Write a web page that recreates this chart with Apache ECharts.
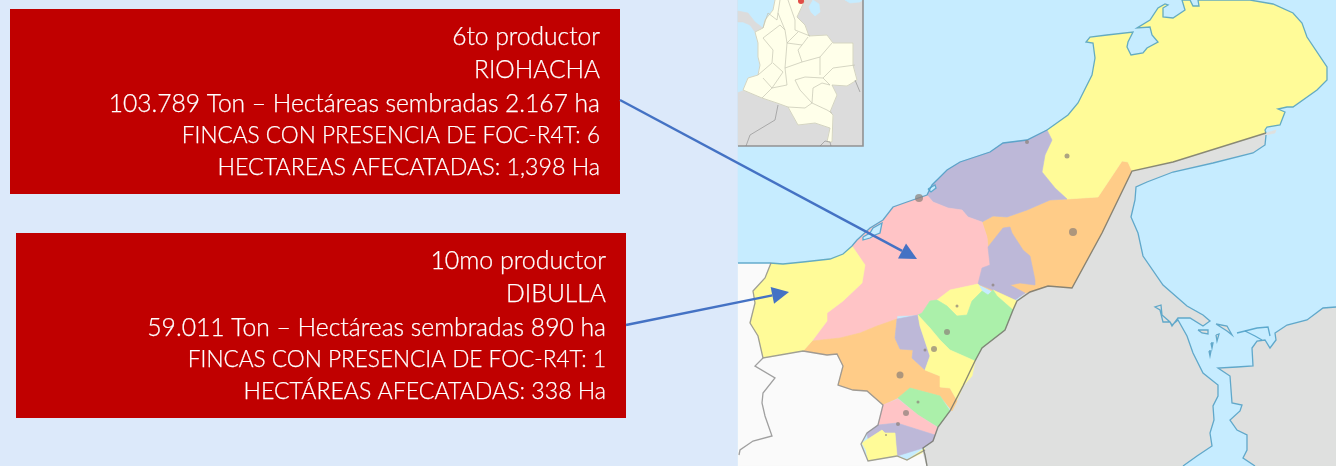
<!DOCTYPE html>
<html>
<head>
<meta charset="utf-8">
<title>La Guajira</title>
<style>
html, body { margin: 0; padding: 0; background: #dce9fa; }
#main { width: 1336px; height: 466px; filter: blur(0.45px); }
</style>
<script src="https://cdn.jsdelivr.net/npm/echarts@6/dist/echarts.min.js"></script>
</head>
<body>
<div id="main"></div>
<script>
// textos de los recuadros
var riohachaLines = ['6to productor', 'RIOHACHA', '103.789 Ton \u2013 Hect\u00e1reas sembradas 2.167 ha', 'FINCAS CON PRESENCIA DE FOC-R4T: 6', 'HECTAREAS AFECATADAS: 1,398 Ha'];
var dibullaLines = ['10mo productor', 'DIBULLA', '59.011 Ton \u2013 Hect\u00e1reas sembradas 890 ha', 'FINCAS CON PRESENCIA DE FOC-R4T: 1', 'HECT\u00c1REAS AFECATADAS: 338 Ha'];

// contornos (x, y en pixeles del mapa)
var seaArea = [[738, 0], [1336, 0], [1336, 466], [738, 466]];
var whiteLand = [[738, 263], [771, 263], [765, 278], [753, 291], [755, 303], [750, 323], [758, 336], [763, 358], [803, 351], [827, 355], [837, 354], [843, 366], [838, 385], [853, 390], [867, 391], [883, 405], [878, 425], [867, 433], [861, 444], [868, 461], [897, 456], [907, 460], [925, 450], [923, 453], [927, 466], [738, 466]];
var venezuelaWest = [[1266, 133], [1276, 130], [1275, 133], [1266, 135], [1265, 145], [1253, 153], [1213, 163], [1173, 172], [1147, 182], [1136, 187], [1135, 200], [1131, 217], [1138, 233], [1143, 256], [1163, 285], [1187, 306], [1203, 315], [1210, 321], [1203, 326], [1190, 318], [1178, 318], [1172, 326], [1170, 322], [1163, 322], [1160, 310], [1155, 307], [1161, 305], [1162, 315], [1170, 322], [1172, 325], [1178, 320], [1187, 336], [1193, 353], [1203, 373], [1218, 385], [1218, 396], [1213, 406], [1214, 420], [1210, 433], [1212, 446], [1197, 456], [1183, 466], [927, 466], [923, 453], [925, 448], [933, 441], [938, 427], [950, 411], [963, 386], [975, 361], [982, 348], [1005, 330], [1017, 301], [1025, 293], [1048, 286], [1072, 288], [1102, 233], [1132, 171], [1173, 162]];
var venezuelaEast = [[1336, 307], [1323, 308], [1307, 320], [1287, 325], [1275, 333], [1276, 340], [1270, 348], [1265, 340], [1257, 341], [1252, 348], [1253, 366], [1237, 367], [1218, 368], [1230, 376], [1232, 403], [1242, 405], [1240, 411], [1230, 420], [1237, 430], [1247, 435], [1247, 450], [1243, 458], [1255, 466], [1336, 466]];
var isletA = [[1216, 324], [1227, 326], [1232, 335], [1227, 331]];
var isletB = [[1198, 330], [1208, 330], [1208, 334], [1202, 333]];
var isletC = [[1216, 335], [1219, 334], [1217, 341]];
var isletD = [[1211, 343], [1213, 343], [1212, 348]];
var isletE = [[1209, 351], [1211, 351], [1210, 356]];

var uribia = [[1047, 130], [1068, 115], [1078, 103], [1092, 75], [1095, 58], [1093, 43], [1086, 42], [1090, 37], [1107, 35], [1133, 32], [1128, 42], [1127, 47], [1131, 55], [1143, 53], [1147, 48], [1158, 42], [1152, 35], [1150, 27], [1137, 28], [1150, 20], [1158, 8], [1165, 4], [1168, 5], [1163, 8], [1163, 17], [1173, 18], [1185, 10], [1182, 0], [1190, 0], [1193, 6], [1199, 6], [1198, 0], [1250, 0], [1273, 4], [1293, 13], [1302, 23], [1307, 37], [1327, 67], [1327, 80], [1317, 90], [1293, 107], [1287, 107], [1278, 109], [1285, 112], [1280, 125], [1267, 127], [1265, 130], [1266, 133], [1173, 162], [1132, 171], [1128, 162], [1122, 161], [1098, 197], [1067, 199], [1055, 188], [1042, 172], [1045, 155], [1052, 140]];
var manaure = [[927, 195], [932, 185], [947, 170], [960, 162], [990, 152], [1003, 143], [1027, 140], [1047, 130], [1052, 140], [1045, 155], [1042, 172], [1055, 188], [1067, 199], [1050, 200], [1027, 210], [1007, 217], [993, 216], [982, 222], [968, 217], [962, 210], [948, 208], [933, 202]];
var riohacha = [[927, 195], [907, 202], [893, 207], [883, 220], [870, 228], [857, 240], [852, 246], [865, 265], [862, 283], [843, 301], [827, 313], [827, 321], [812, 341], [840, 338], [860, 333], [877, 326], [897, 319], [897, 316], [918, 315], [922, 313], [930, 301], [937, 300], [950, 290], [978, 284], [990, 265], [988, 247], [987, 237], [982, 222], [968, 217], [962, 210], [948, 208], [933, 202]];
var maicao = [[982, 222], [993, 216], [1007, 217], [1027, 210], [1050, 200], [1067, 199], [1098, 197], [1122, 161], [1128, 162], [1132, 171], [1102, 233], [1072, 288], [1048, 286], [1030, 292], [1025, 293], [1010, 300], [978, 284], [982, 268], [990, 265], [988, 247], [987, 237]];
var albania = [[1010, 227], [1012, 233], [1023, 250], [1030, 256], [1035, 280], [1035, 285], [1020, 283], [1010, 285], [1025, 293], [1015, 300], [993, 290], [978, 284], [982, 268], [990, 265], [988, 247], [1003, 228]];
var hatonuevo = [[937, 300], [950, 290], [978, 284], [982, 291], [972, 301], [967, 315], [957, 316], [947, 306]];
var barrancas = [[930, 301], [937, 300], [947, 306], [957, 316], [967, 315], [972, 301], [982, 291], [988, 295], [993, 290], [997, 296], [1013, 310], [1005, 330], [982, 348], [975, 361], [950, 350], [940, 340], [930, 328], [918, 315], [922, 313]];
var stripNorth = [[993, 290], [1017, 301], [1013, 310], [997, 296]];
var distraccion = [[897, 319], [918, 315], [920, 326], [930, 356], [925, 370], [912, 358], [913, 350], [900, 349], [895, 338]];
var fonseca = [[918, 315], [930, 328], [940, 340], [950, 350], [975, 361], [972, 376], [963, 386], [957, 400], [950, 388], [940, 387], [940, 376], [925, 370], [930, 356], [920, 326]];
var sanJuan = [[803, 351], [812, 341], [840, 338], [860, 333], [877, 326], [897, 319], [895, 338], [900, 349], [913, 350], [912, 358], [925, 370], [940, 376], [940, 387], [950, 388], [957, 401], [952, 411], [940, 396], [910, 388], [898, 398], [883, 405], [867, 391], [853, 390], [838, 385], [843, 366], [837, 354], [827, 355]];
var villanueva = [[910, 388], [940, 396], [950, 411], [938, 427], [918, 415], [898, 398]];
var urumita = [[898, 399], [918, 415], [937, 427], [935, 435], [897, 423], [878, 425], [883, 405]];
var laJaguaWest = [[878, 425], [897, 423], [935, 435], [933, 441], [923, 448], [897, 456], [895, 433], [885, 433], [882, 430], [868, 439], [867, 433]];
var laJaguaEast = [[862, 443], [868, 439], [882, 430], [885, 433], [895, 433], [897, 456], [907, 460], [925, 448], [922, 453], [907, 460], [897, 456], [868, 461], [866, 450]];
var dibulla = [[771, 263], [783, 264], [803, 262], [830, 259], [843, 254], [852, 246], [865, 265], [862, 283], [843, 301], [827, 313], [827, 321], [812, 341], [803, 351], [763, 358], [758, 336], [750, 323], [755, 303], [753, 291], [765, 278]];
var lagoonWest = [[863, 237], [870, 233], [873, 228], [882, 223], [880, 233], [875, 235], [870, 238], [863, 240]];
var lagoonEast = [[928, 189], [935, 185], [936, 188], [931, 192]];

// mapa pequeno de Colombia
var insetFrame = [[738, 0], [863, 0], [863, 146], [738, 146]];
var insetSea = [[738, 0], [775, 0], [773, 10], [765, 20], [763, 28], [755, 32], [758, 43], [758, 57], [760, 65], [758, 75], [748, 78], [743, 90], [738, 92]];
var insetPanama = [[738, 11], [748, 13], [755, 22], [763, 28], [755, 32], [750, 25], [743, 22], [738, 22]];
var insetLake = [[813, 0], [819, 4], [820, 12], [815, 16], [811, 12], [809, 7]];
var insetCaribe = [[845, 0], [863, 0], [860, 2], [850, 3]];
var colombia = [[775, 0], [773, 10], [765, 20], [763, 28], [755, 32], [758, 43], [758, 57], [760, 65], [758, 75], [748, 78], [743, 90], [762, 98], [777, 103], [788, 107], [798, 125], [815, 123], [830, 128], [827, 142], [832, 142], [833, 115], [830, 112], [837, 95], [832, 85], [847, 86], [857, 80], [853, 65], [853, 43], [833, 43], [827, 35], [809, 36], [805, 25], [797, 17], [805, 0]];
var insetDepartments = [
  [[832, 43], [820, 57], [802, 62], [785, 68], [787, 85]],
  [[820, 57], [820, 75]],
  [[855, 65], [833, 68], [823, 78], [830, 85]],
  [[795, 80], [805, 77], [823, 78]],
  [[795, 80], [800, 90], [812, 103], [805, 108], [788, 107]],
  [[812, 103], [827, 110], [832, 113]],
  [[813, 88], [822, 83], [830, 85]],
  [[813, 88], [812, 103]],
  [[787, 85], [772, 88], [762, 98]],
  [[763, 78], [772, 88], [783, 72], [773, 63]],
  [[780, 0], [778, 13], [785, 30], [787, 43], [785, 68]],
  [[788, 0], [795, 20], [795, 30], [810, 36]],
  [[787, 43], [798, 32]],
  [[763, 38], [773, 50], [772, 63], [758, 75]],
  [[763, 28], [768, 13], [777, 20], [778, 13]],
  [[763, 38], [780, 25], [785, 30]],
  [[787, 43], [802, 45], [808, 37]],
  [[802, 62], [798, 50], [802, 45]],
  colombia
];
var insetBorders = [
  [[778, 105], [775, 120], [750, 135], [746, 146]],
  [[855, 80], [860, 92]],
  [[820, 146], [825, 141], [830, 142], [831, 146]]
];

// costas y fronteras
var coastLines = [
  [[738, 263], [770, 263], [783, 264], [803, 262], [830, 259], [843, 254], [852, 246], [857, 240], [870, 228], [883, 220], [893, 207], [907, 202], [927, 195], [932, 185], [947, 170], [960, 162], [990, 152], [1003, 143], [1027, 140], [1047, 130]],
  uribia.slice(0, 48),
  [[1266, 135], [1265, 145], [1253, 153], [1213, 163], [1173, 172], [1147, 182], [1136, 187], [1135, 200], [1131, 217], [1138, 233], [1143, 256], [1163, 285], [1187, 306], [1203, 315], [1210, 321], [1203, 326], [1190, 318], [1178, 318], [1172, 326], [1170, 322], [1163, 322], [1160, 310], [1155, 307], [1161, 305], [1162, 315], [1170, 322], [1172, 325], [1178, 320], [1187, 336], [1193, 353], [1203, 373], [1218, 385], [1218, 396], [1213, 406], [1214, 420], [1210, 433], [1212, 446], [1197, 456], [1183, 466]],
  venezuelaEast.slice(0, 23),
  [[1237, 333], [1245, 331], [1257, 328], [1268, 327], [1270, 336]],
  [[1245, 331], [1255, 336], [1262, 340]],
  isletA.concat([isletA[0]]),
  isletB.concat([isletB[0]]),
  isletC.concat([isletC[0]]),
  isletD.concat([isletD[0]]),
  isletE.concat([isletE[0]]),
  lagoonWest.concat([lagoonWest[0]]),
  lagoonEast.concat([lagoonEast[0]])
];
var borderLines = [
  [[1266, 133], [1173, 162], [1132, 171], [1102, 233], [1072, 288], [1048, 286], [1030, 292], [1017, 301], [1013, 310], [1005, 330], [982, 348], [975, 361], [963, 386], [950, 411], [938, 427], [933, 441], [923, 448], [925, 455], [927, 466]]
];
var landLines = [
  [[771, 263], [765, 278], [753, 291], [755, 303], [750, 323], [758, 336], [763, 358], [803, 351], [827, 355], [837, 354], [843, 366], [838, 385], [853, 390], [867, 391], [883, 405], [878, 425], [867, 433], [861, 444], [868, 461], [897, 456], [907, 460], [925, 450]],
  [[763, 358], [755, 366], [775, 378], [763, 393], [762, 403], [765, 416], [772, 436], [753, 441], [740, 450], [739, 455]]
];

// poblaciones: x, y, tamano
var townSpots = [[919, 198, 8], [1027, 142, 4], [1067, 156, 5], [1073, 232, 8], [993, 285, 3], [957, 306, 3], [947, 332, 6], [934, 349, 6], [925, 350, 3], [900, 375, 7], [918, 402, 3], [906, 413, 6], [898, 424, 4], [886, 435, 2]];
var markerSpot = [[801, 1, 6]];

// cuadros y flechas
var riohachaBox = [10, 9, 620, 194];
var dibullaBox = [16, 233, 626, 418];
var riohachaY = [37, 70, 104, 136, 168];
var dibullaY = [261, 294, 328, 360, 392];
var riohachaArrow = [[620, 100], [917, 259]];
var dibullaArrow = [[626, 325], [789, 292]];

var landFills = {
  sea: '#c6ecff', white: '#fafafa', grey: '#dfe0df',
  yellow: '#fffb98', purple: '#bdb8d8', pink: '#ffc4c6', orange: '#ffcc88', green: '#abf0aa'
};
var mapShapes = [
  [seaArea, landFills.sea],
  [whiteLand, landFills.white],
  [venezuelaWest, landFills.grey],
  [venezuelaEast, landFills.grey],
  [isletA, landFills.grey],
  [isletB, landFills.grey],
  [isletC, landFills.grey],
  [isletD, landFills.grey],
  [isletE, landFills.grey],
  [maicao, landFills.orange],
  [uribia, landFills.yellow],
  [manaure, landFills.purple],
  [riohacha, landFills.pink],
  [albania, landFills.purple],
  [hatonuevo, landFills.yellow],
  [stripNorth, landFills.yellow],
  [barrancas, landFills.green],
  [sanJuan, landFills.orange],
  [distraccion, landFills.purple],
  [fonseca, landFills.yellow],
  [villanueva, landFills.green],
  [urumita, landFills.pink],
  [laJaguaWest, landFills.purple],
  [laJaguaEast, landFills.yellow],
  [dibulla, landFills.yellow],
  [lagoonWest, landFills.sea],
  [lagoonEast, landFills.sea],
  [insetFrame, '#dcdcdc'],
  [insetSea, landFills.sea],
  [insetPanama, '#dcdcdc'],
  [insetLake, landFills.sea],
  [insetCaribe, landFills.sea],
  [colombia, '#ffffea']
];

// tamano de letra por renglon, para igualar el ancho de cada linea
var riohachaSizes = [24.6, 24.5, 24.6, 22.6, 23.2];
var dibullaSizes = [24.9, 24.7, 24.7, 22.6, 23.1];

function toPixels(api, pts) {
  return pts.map(function (p) { return api.coord(p); });
}

function indexData(list) {
  return list.map(function (item, i) { return [i]; });
}

function polygonSeries(list) {
  return {
    type: 'custom',
    coordinateSystem: 'cartesian2d',
    silent: true,
    clip: false,
    data: indexData(list),
    renderItem: function (params, api) {
      var item = list[api.value(0)];
      return {
        type: 'polygon',
        shape: { points: toPixels(api, item[0]) },
        style: { fill: item[1], stroke: item[1], lineWidth: 0.6 }
      };
    }
  };
}

function lineSeries(list, color, width) {
  return {
    type: 'custom',
    coordinateSystem: 'cartesian2d',
    silent: true,
    clip: false,
    data: indexData(list),
    renderItem: function (params, api) {
      return {
        type: 'polyline',
        shape: { points: toPixels(api, list[api.value(0)]) },
        style: { fill: null, stroke: color, lineWidth: width, opacity: 0.85 }
      };
    }
  };
}

function boxSeries(boxes) {
  return {
    type: 'custom',
    coordinateSystem: 'cartesian2d',
    silent: true,
    data: indexData(boxes),
    renderItem: function (params, api) {
      var b = boxes[api.value(0)];
      var a = api.coord([b[0], b[1]]);
      var c = api.coord([b[2], b[3]]);
      return {
        type: 'rect',
        shape: { x: a[0], y: a[1], width: c[0] - a[0], height: c[1] - a[1] },
        style: { fill: '#c00000' }
      };
    }
  };
}

function textSeries(lines, ys, sizes, right) {
  return {
    type: 'custom',
    coordinateSystem: 'cartesian2d',
    silent: true,
    data: indexData(lines),
    renderItem: function (params, api) {
      var i = api.value(0);
      var p = api.coord([right, ys[i]]);
      return {
        type: 'text',
        style: {
          text: lines[i],
          x: p[0],
          y: p[1],
          fill: '#ffffff',
          stroke: '#ffffff',
          lineWidth: 0.25,
          align: 'right',
          verticalAlign: 'middle',
          font: '300 ' + sizes[i] + 'px Lato'
        }
      };
    }
  };
}

function arrowSeries(arrows) {
  return {
    type: 'custom',
    coordinateSystem: 'cartesian2d',
    silent: true,
    clip: false,
    data: indexData(arrows),
    renderItem: function (params, api) {
      var a = api.coord(arrows[api.value(0)][0]);
      var b = api.coord(arrows[api.value(0)][1]);
      var angle = Math.atan2(b[1] - a[1], b[0] - a[0]);
      var ux = Math.cos(angle), uy = Math.sin(angle);
      var headLen = 17, headWide = 8.5;
      var bx = b[0] - ux * headLen, by = b[1] - uy * headLen;
      return {
        type: 'group',
        children: [
          { type: 'line', shape: { x1: a[0], y1: a[1], x2: bx, y2: by }, style: { stroke: '#4472c4', lineWidth: 2.5 } },
          { type: 'polygon', shape: { points: [b, [bx - uy * headWide, by + ux * headWide], [bx + uy * headWide, by - ux * headWide]] }, style: { fill: '#4472c4' } }
        ]
      };
    }
  };
}

function spotSeries(data, color) {
  return {
    type: 'scatter',
    silent: true,
    data: data,
    symbolSize: function (v) { return v[2]; },
    itemStyle: { color: color, opacity: 0.7 }
  };
}

var chart = echarts.init(document.getElementById('main'), null, { renderer: 'canvas' });
chart.setOption({
  animation: false,
  backgroundColor: '#dce9fa',
  tooltip: { show: false },
  grid: { left: 0, right: 0, top: 0, bottom: 0 },
  xAxis: { type: 'value', min: 0, max: 1336, show: false },
  yAxis: { type: 'value', min: 0, max: 466, inverse: true, show: false },
  series: [
    polygonSeries(mapShapes),
    lineSeries(insetDepartments, '#c2c2b0', 0.8),
    lineSeries(insetBorders, '#a0a0a0', 1),
    lineSeries(coastLines, '#4a9dc6', 1.3),
    lineSeries(landLines, '#8f8f8f', 1.3),
    lineSeries(borderLines, '#75756c', 1.4),
    lineSeries([[[738, 146], [863, 146], [863, 0]]], '#858585', 1.6),
    spotSeries(townSpots, '#8a7f78'),
    spotSeries(markerSpot, '#d40000'),
    boxSeries([riohachaBox, dibullaBox]),
    arrowSeries([riohachaArrow, dibullaArrow]),
    textSeries(riohachaLines, riohachaY, riohachaSizes, 600),
    textSeries(dibullaLines, dibullaY, dibullaSizes, 606)
  ]
});
</script>
</body>
</html>
